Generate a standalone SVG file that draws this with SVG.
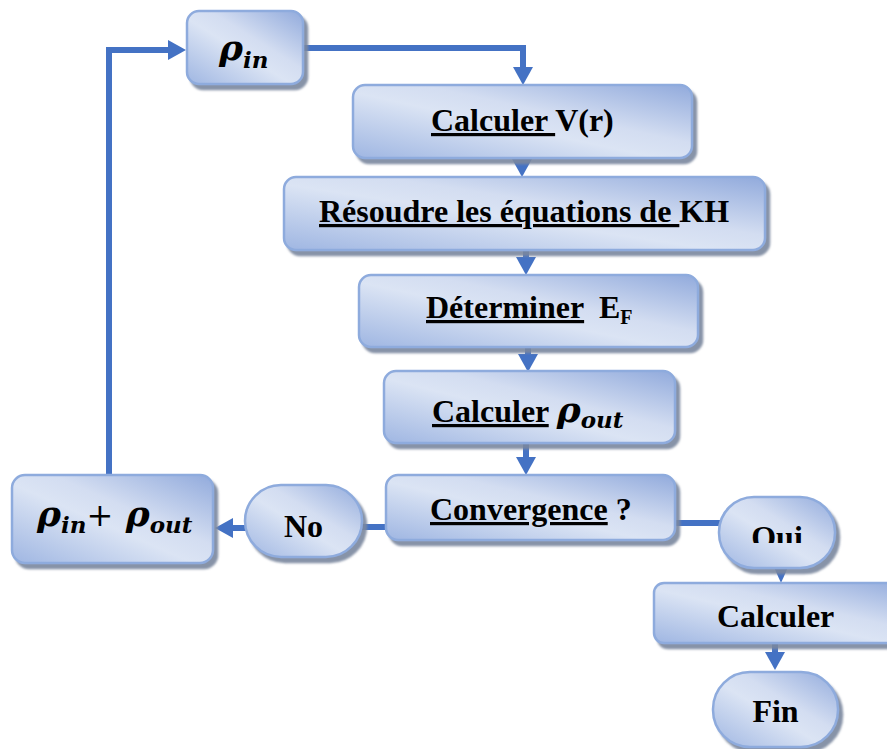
<svg xmlns="http://www.w3.org/2000/svg" width="887" height="749" viewBox="0 0 887 749">
  <defs>
    <linearGradient id="fillBlue" x1="0" y1="1" x2="1" y2="0">
      <stop offset="0" stop-color="#9fb6e2"/>
      <stop offset="0.45" stop-color="#dbe4f4"/>
      <stop offset="0.6" stop-color="#d3ddf1"/>
      <stop offset="1" stop-color="#91aadc"/>
    </linearGradient>
    <filter id="shadow" x="-10%" y="-10%" width="130%" height="140%">
      <feDropShadow dx="4" dy="5" stdDeviation="1.2" flood-color="#7a879f" flood-opacity="0.9"/>
    </filter>
    <marker id="head" viewBox="0 0 18 20" refX="0" refY="10" markerWidth="18" markerHeight="20" markerUnits="userSpaceOnUse" orient="auto">
      <path d="M0,0 L18,10 L0,20 z" fill="#4472c4"/>
    </marker>
    <marker id="headSmall" viewBox="0 0 18 16" refX="0" refY="8" markerWidth="18" markerHeight="16" markerUnits="userSpaceOnUse" orient="auto">
      <path d="M0,0 L18,8 L0,16 z" fill="#4472c4"/>
    </marker>
    <clipPath id="ouiClip">
      <rect x="700" y="490" width="160" height="53"/>
    </clipPath>
  </defs>
  <style>
    .box { fill: url(#fillBlue); stroke: #8eabdd; stroke-width: 2.5; filter: url(#shadow); }
    .lbl { font-family: "Liberation Serif", "Times New Roman", serif; font-weight: bold; font-size: 32px; fill: #000; }
    .math { font-family: "DejaVu Serif", serif; font-style: italic; font-weight: bold; font-size: 36px; }
    .sub { font-family: "DejaVu Serif", serif; font-style: italic; font-weight: bold; font-size: 23px; }
    .plus { font-family: "DejaVu Serif", serif; font-weight: normal; font-size: 32px; }
    .u { text-decoration: underline; }
    .link { fill: none; stroke: #4472c4; stroke-width: 6; }
  </style>

  <!-- connectors -->
  <g id="connectors">
    <path class="link" d="M303,48 H523 V67" marker-end="url(#head)"/>
    <path class="link" d="M522,156 V159" marker-end="url(#head)"/>
    <path class="link" d="M526,248 V257" marker-end="url(#head)"/>
    <path class="link" d="M528,345 V354" marker-end="url(#head)"/>
    <path class="link" d="M526,441 V457" marker-end="url(#head)"/>
    <path class="link" d="M388,527 H360"/>
    <path class="link" d="M247,528 H233" marker-end="url(#head)"/>
    <path class="link" d="M109,476 V50 H168" marker-end="url(#head)"/>
    <path class="link" d="M673,523 H722"/>
    <path class="link" d="M781,562 V565" marker-end="url(#headSmall)"/>
    <path class="link" d="M775,641 V652" marker-end="url(#head)"/>
  </g>

  <g id="node-rho-in">
    <rect class="box" x="187" y="11" width="116" height="73" rx="12"/>
    <text class="lbl" x="219" y="60"><tspan class="math">ρ</tspan><tspan class="sub" dy="8">in</tspan></text>
  </g>

  <g id="node-calc-v">
    <rect class="box" x="353" y="85" width="339" height="73" rx="12"/>
    <text class="lbl" x="431" y="131"><tspan class="u">Calculer </tspan>V(r)</text>
  </g>

  <g id="node-kh">
    <rect class="box" x="284" y="177" width="481" height="73" rx="12"/>
    <text class="lbl" x="319" y="222"><tspan class="u">Résoudre les équations de </tspan>KH</text>
  </g>

  <g id="node-ef">
    <rect class="box" x="359" y="275" width="339" height="72" rx="12"/>
    <text class="lbl" x="426" y="318"><tspan class="u">Déterminer</tspan><tspan x="599">E</tspan><tspan font-size="20" dy="6">F</tspan></text>
  </g>

  <g id="node-calc-rho-out">
    <rect class="box" x="384" y="371" width="291" height="72" rx="12"/>
    <text class="lbl" x="432" y="422"><tspan class="u">Calculer</tspan> <tspan class="math">ρ</tspan><tspan class="sub" dy="6">out</tspan></text>
  </g>

  <g id="node-convergence">
    <rect class="box" x="386" y="475" width="289" height="65" rx="12"/>
    <text class="lbl" x="430" y="520"><tspan class="u">Convergence</tspan> ?</text>
  </g>

  <g id="node-no">
    <rect class="box" x="245" y="485" width="117" height="72" rx="36"/>
    <text class="lbl" x="303.5" y="537" text-anchor="middle">No</text>
  </g>

  <g id="node-mix">
    <rect class="box" x="12" y="475" width="201" height="88" rx="13"/>
    <text class="lbl" x="37" y="526"><tspan class="math">ρ</tspan><tspan class="sub" dy="7">in</tspan><tspan class="plus" dy="-7">+</tspan><tspan class="math"> ρ</tspan><tspan class="sub" dy="7">out</tspan></text>
  </g>

  <g id="node-oui">
    <rect class="box" x="719" y="497" width="116" height="71" rx="35"/>
    <text class="lbl" x="777" y="548" text-anchor="middle" clip-path="url(#ouiClip)">Oui</text>
  </g>

  <g id="node-calc-final">
    <rect class="box" x="654" y="583" width="260" height="60" rx="10"/>
    <text class="lbl" x="717" y="627">Calculer</text>
  </g>

  <g id="node-fin">
    <rect class="box" x="713" y="672" width="125" height="75" rx="37"/>
    <text class="lbl" x="775.5" y="722" text-anchor="middle">Fin</text>
  </g>
</svg>
